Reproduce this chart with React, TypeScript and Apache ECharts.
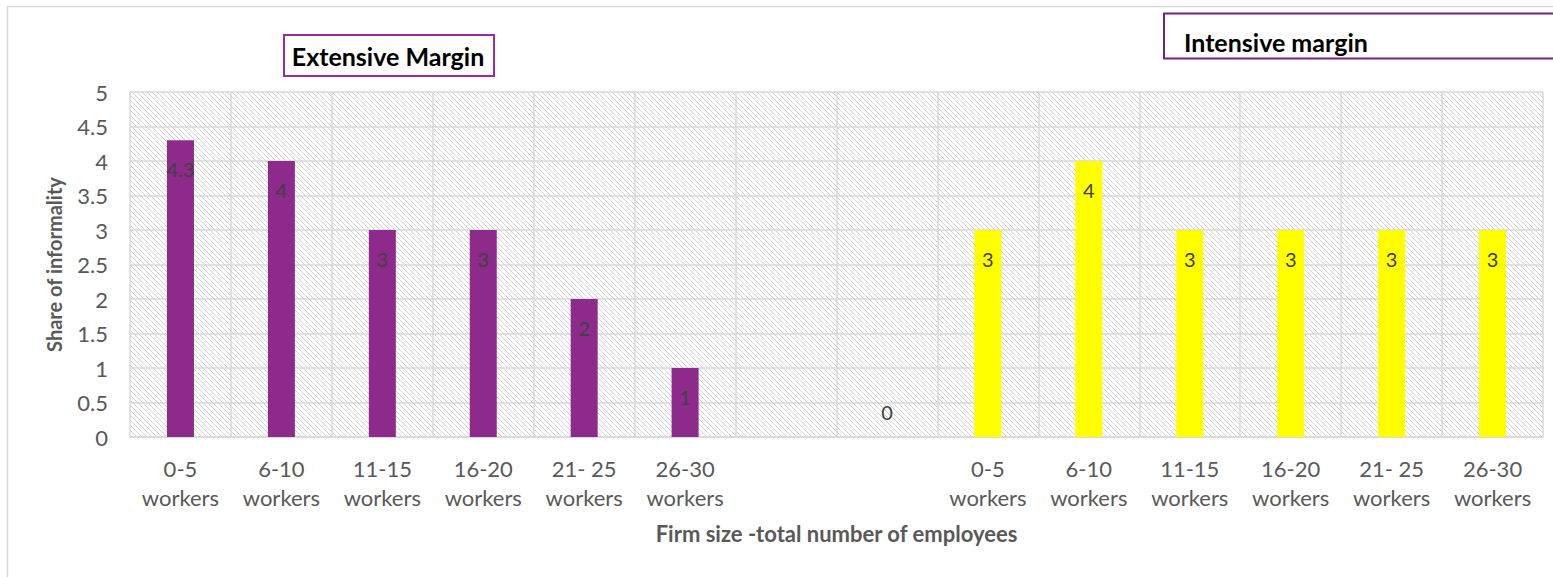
import React, { useEffect, useRef } from "react";
import * as echarts from "echarts";

const categories = [
  "0-5\nworkers", "6-10\nworkers", "11-15\nworkers", "16-20\nworkers", "21- 25\nworkers", "26-30\nworkers",
  "", "",
  "0-5\nworkers", "6-10\nworkers", "11-15\nworkers", "16-20\nworkers", "21- 25\nworkers", "26-30\nworkers",
];
const extensiveValues: (number | null)[] = [4.3, 4, 3, 3, 2, 1, null, 0, null, null, null, null, null, null];
const intensiveValues: (number | null)[] = [null, null, null, null, null, null, null, null, 3, 4, 3, 3, 3, 3];
const yTicks = { min: 0, max: 5, interval: 0.5 };
const extensiveTitle = "Extensive Margin";
const intensiveTitle = "Intensive margin";
const xName = "Firm size -total number of employees";
const yName = "Share of informality";

const FONT = "Lato, 'Open Sans', sans-serif";

function makeHatch() {
  const P = 10;
  const c = document.createElement("canvas");
  c.width = P;
  c.height = P;
  const ctx = c.getContext("2d")!;
  ctx.fillStyle = "#ffffff";
  ctx.fillRect(0, 0, P, P);
  ctx.fillStyle = "#d2d2d2";
  for (let y = 0; y < P; y++) {
    for (let x = 0; x < P; x++) {
      if ((((x - y) % 5) + 5) % 5 === 0) {
        ctx.fillRect(x, y, 1, 1);
      }
    }
  }
  return c;
}

export default function App() {
  const ref = useRef<HTMLDivElement>(null);
  useEffect(() => {
    if (!ref.current) return;
    const chart = echarts.init(ref.current, null, { renderer: "svg" });
    const hatch = { image: makeHatch(), repeat: "repeat" };
    const labelCommon = {
      show: true,
      position: "insideTop",
      distance: 19,
      color: "#404040",
      fontSize: 20,
      fontFamily: FONT,
    };
    chart.setOption({
      animation: false,
      backgroundColor: "#ffffff",
      grid: {
        left: 130,
        right: 10,
        top: 92,
        bottom: 140,
        show: true,
        backgroundColor: hatch,
        borderWidth: 0,
      },
      graphic: [
        {
          type: "rect",
          shape: { x: 7.5, y: 6.5, width: 1600, height: 700 },
          style: { fill: "none", stroke: "#d9d9d9", lineWidth: 1.5 },
          silent: true,
          z: -1,
        },
        {
          type: "rect",
          shape: { x: 284, y: 35, width: 210, height: 41 },
          style: { fill: "#ffffff", stroke: "#9b2c9b", lineWidth: 2 },
        },
        {
          type: "text",
          x: 388,
          y: 56,
          style: {
            text: extensiveTitle,
            fill: "#000000",
            fontSize: 25,
            fontWeight: "bold",
            fontFamily: FONT,
            align: "center",
            verticalAlign: "middle",
          },
        },
        {
          type: "rect",
          shape: { x: 1164, y: 13.5, width: 420, height: 45 },
          style: { fill: "#ffffff", stroke: "#70247a", lineWidth: 2 },
        },
        {
          type: "text",
          x: 1184,
          y: 42,
          style: {
            text: intensiveTitle,
            fill: "#000000",
            fontSize: 25,
            fontWeight: "bold",
            fontFamily: FONT,
            align: "left",
            verticalAlign: "middle",
          },
        },
      ],
      xAxis: {
        type: "category",
        data: categories,
        name: xName,
        nameLocation: "middle",
        nameGap: 85,
        nameTextStyle: { color: "#595959", fontSize: 22, fontWeight: "bold", fontFamily: FONT },
        axisLine: { lineStyle: { color: "#d9d9d9", width: 1.5 } },
        axisTick: { show: false },
        axisLabel: {
          interval: 0,
          color: "#595959",
          fontSize: 22,
          lineHeight: 29,
          margin: 17,
          fontFamily: FONT,
        },
        splitLine: { show: true, interval: 0, lineStyle: { color: "#d9d9d9", width: 1.5 } },
      },
      yAxis: {
        type: "value",
        min: yTicks.min,
        max: yTicks.max,
        interval: yTicks.interval,
        name: yName,
        nameLocation: "middle",
        nameGap: 66,
        nameTextStyle: { color: "#595959", fontSize: 20, fontWeight: "bold", fontFamily: FONT },
        axisLine: { show: false },
        axisTick: { show: false },
        axisLabel: { color: "#595959", fontSize: 22, margin: 22, fontFamily: FONT },
        splitLine: { lineStyle: { color: "#d9d9d9", width: 1.5 } },
      },
      series: [
        {
          type: "bar",
          name: "Extensive",
          data: extensiveValues.map((v) =>
            v === 0
              ? { value: v, label: { position: "top", distance: 15 } }
              : v
          ),
          barWidth: 27,
          barGap: "-100%",
          itemStyle: { color: "#8e2a8b" },
          label: labelCommon,
        },
        {
          type: "bar",
          name: "Intensive",
          data: intensiveValues,
          barWidth: 27,
          barGap: "-100%",
          itemStyle: { color: "#ffff00" },
          label: labelCommon,
        },
      ],
    });
    return () => chart.dispose();
  }, []);
  return (
    <div
      ref={ref}
      style={{ position: "fixed", left: 0, top: 0, width: 1553, height: 577 }}
    />
  );
}
